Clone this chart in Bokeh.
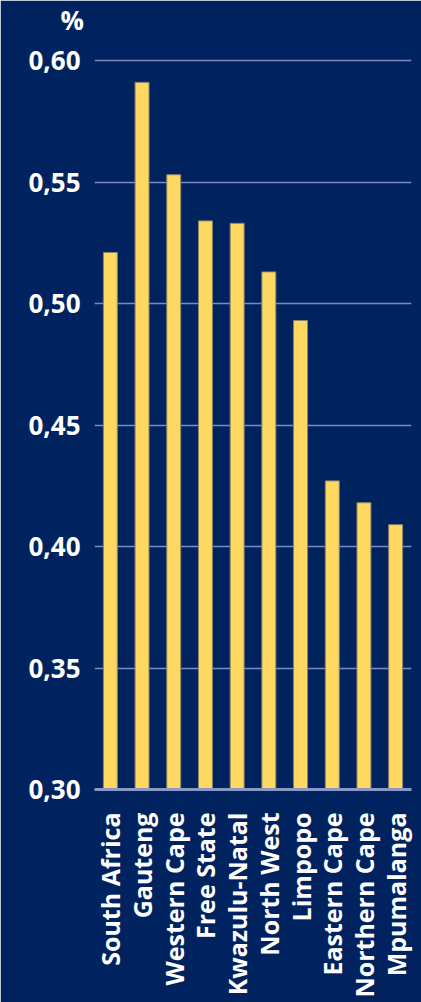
import math
from bokeh.plotting import figure
from bokeh.models import Range1d, FixedTicker, CustomJSTickFormatter, Title, ColumnDataSource
from bokeh.embed import file_html
from bokeh.resources import INLINE

categories = ["South Africa", "Gauteng", "Western Cape", "Free State", "Kwazulu-Natal",
              "North West", "Limpopo", "Eastern Cape", "Northern Cape", "Mpumalanga"]
values = [0.521, 0.591, 0.553, 0.534, 0.533, 0.513, 0.493, 0.427, 0.418, 0.409]
y_ticks = [0.30, 0.35, 0.40, 0.45, 0.50, 0.55, 0.60]
y_unit = "%"

NAVY = "#002360"
BAR = "#ffd862"
GRID = "#7b8bbd"

# layout: 0.30 at 789 px, 0.60 at 60 px; frame extends invisibly up to 40 px
TOP_BORDER = 40
BOTTOM_BORDER = 213
H = 1002
frame_h = H - TOP_BORDER - BOTTOM_BORDER
y_lo, y_hi_tick = y_ticks[0], y_ticks[-1]
y_end = y_lo + (y_hi_tick - y_lo) * frame_h / (789 - 60)

positions = [i + 0.5 for i in range(len(categories))]
src = ColumnDataSource(dict(x=positions, top=values, name=categories))

p = figure(width=421, height=H,
           x_range=Range1d(0, len(categories)), y_range=Range1d(y_lo, y_end),
           min_border_left=94, min_border_right=10,
           min_border_top=TOP_BORDER, min_border_bottom=BOTTOM_BORDER,
           output_backend="svg", toolbar_location=None,
           background_fill_color=NAVY, border_fill_color=NAVY,
           outline_line_color=NAVY, outline_line_width=2)

p.vbar(x="x", top="top", bottom=y_lo, width=0.44, source=src,
       fill_color=BAR, line_color="#8a8468", line_width=1)

# y axis
p.yaxis.ticker = FixedTicker(ticks=y_ticks)
p.yaxis.formatter = CustomJSTickFormatter(code="return tick.toFixed(2).replace('.', ',');")
p.yaxis.axis_line_color = None
p.yaxis.major_tick_line_color = None
p.yaxis.minor_tick_line_color = None
p.yaxis.major_label_standoff = 8
p.yaxis.major_label_text_color = "white"
p.yaxis.major_label_text_font = "Open Sans"
p.yaxis.major_label_text_font_style = "bold"
p.yaxis.major_label_text_font_size = "26px"

# grid
p.ygrid.ticker = FixedTicker(ticks=y_ticks)
p.ygrid.grid_line_color = GRID
p.ygrid.grid_line_width = 1.5
p.xgrid.grid_line_color = None

# x axis
p.xaxis.ticker = FixedTicker(ticks=positions)
p.xaxis.formatter = CustomJSTickFormatter(
    args=dict(labels=categories),
    code="return labels[Math.floor(tick)];")
p.xaxis.axis_line_color = "#8b99c8"
p.xaxis.axis_line_width = 3
p.xaxis.major_tick_line_color = None
p.xaxis.minor_tick_line_color = None
p.xaxis.major_label_orientation = math.pi / 2
p.xaxis.major_label_standoff = 17
p.xaxis.major_label_text_color = "white"
p.xaxis.major_label_text_font = "Open Sans"
p.xaxis.major_label_text_font_style = "bold"
p.xaxis.major_label_text_font_size = "25px"

p.add_layout(Title(text=y_unit, align="left", offset=-34, standoff=2, vertical_align="top",
                   text_color="white", text_font="Open Sans", text_font_style="bold",
                   text_font_size="26px"), "above")

open("out.html", "w").write(file_html(p, INLINE))
